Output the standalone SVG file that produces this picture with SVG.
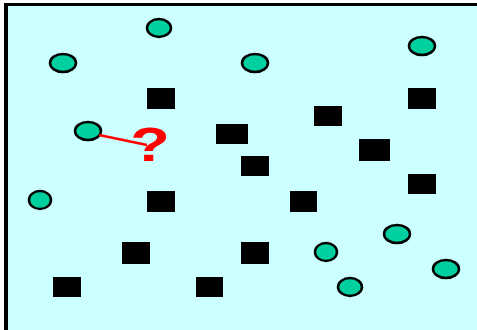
<svg xmlns="http://www.w3.org/2000/svg" width="477" height="330" viewBox="0 0 477 330">
<style>
.b{fill:#000}
.c{fill:#00D0A0;stroke:#000;stroke-width:2.5}
.q{font-family:"Liberation Sans",Arial,sans-serif;font-weight:bold;fill:#FF0000}
</style>
<rect width="477" height="330" fill="#fff"/>
<rect x="4" y="3" width="473" height="327" fill="#CCFFFF"/>
<rect x="4" y="3" width="473" height="3" fill="#000"/>
<rect x="4" y="3" width="4" height="327" fill="#000"/>
<g id="r1"><rect class="b" x="147" y="88" width="28" height="21"/></g>
<g id="r2"><rect class="b" x="216" y="124" width="32" height="20"/></g>
<g id="r3"><rect class="b" x="408" y="88" width="28" height="21"/></g>
<g id="r4"><rect class="b" x="314" y="106" width="28" height="20"/></g>
<g id="r5"><rect class="b" x="359" y="139" width="31" height="22"/></g>
<g id="r6"><rect class="b" x="241" y="156" width="28" height="20"/></g>
<g id="r7"><rect class="b" x="408" y="174" width="28" height="20"/></g>
<g id="r8"><rect class="b" x="147" y="191" width="28" height="21"/></g>
<g id="r9"><rect class="b" x="290" y="191" width="27" height="21"/></g>
<g id="r10"><rect class="b" x="122" y="242" width="28" height="22"/></g>
<g id="r11"><rect class="b" x="241" y="242" width="28" height="22"/></g>
<g id="r12"><rect class="b" x="53" y="277" width="28" height="20"/></g>
<g id="r13"><rect class="b" x="196" y="277" width="27" height="20"/></g>
<g id="c1"><ellipse class="c" cx="159" cy="28" rx="12" ry="9"/></g>
<g id="c2"><ellipse class="c" cx="63" cy="63" rx="13" ry="9"/></g>
<g id="c3"><ellipse class="c" cx="255" cy="63" rx="13" ry="9"/></g>
<g id="c4"><ellipse class="c" cx="422" cy="46" rx="13" ry="9"/></g>
<g id="c5"><ellipse class="c" cx="88" cy="131" rx="13" ry="9"/></g>
<g id="c6"><ellipse class="c" cx="40" cy="200" rx="11" ry="9"/></g>
<g id="c7"><ellipse class="c" cx="397" cy="234" rx="13" ry="9"/></g>
<g id="c8"><ellipse class="c" cx="326" cy="252" rx="11" ry="9"/></g>
<g id="c9"><ellipse class="c" cx="446" cy="269" rx="13" ry="9"/></g>
<g id="c10"><ellipse class="c" cx="350" cy="287" rx="12" ry="9"/></g>
<g id="connectors"><line x1="99" y1="135" x2="147" y2="145" stroke="#FF0000" stroke-width="2.5"/></g>
<g id="q"><text class="q" font-size="48" text-anchor="middle" transform="translate(150,161) scale(1.35,1)">?</text></g>
</svg>
